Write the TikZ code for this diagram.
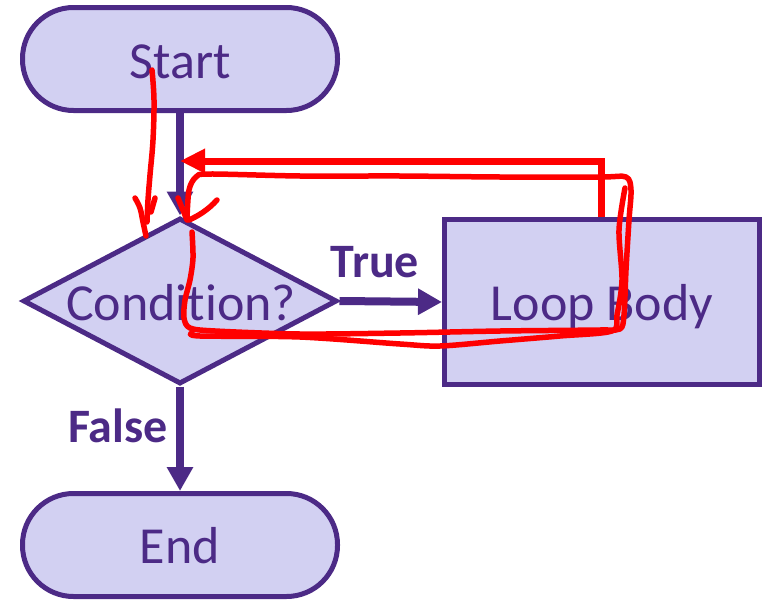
\documentclass[tikz,border=0pt]{standalone}
\usepackage{fontspec}
\setmainfont{Carlito}[Ligatures=CommonOff]
\usetikzlibrary{arrows.meta,shapes.geometric}
\definecolor{ink}{RGB}{76,42,134}
\definecolor{shade}{RGB}{210,208,242}
\definecolor{pen}{RGB}{255,0,0}
\tikzset{
  box/.style={draw=ink, fill=shade, line width=5pt, inner sep=0pt},
  terminal/.style={box, rectangle, rounded corners=51pt, minimum width=315pt, minimum height=103pt},
  decision/.style={box, diamond, minimum width=314pt, minimum height=166pt},
  process/.style={box, rectangle, minimum width=315pt, minimum height=165pt},
  caption/.style={text=ink, font=\fontsize{52}{60}\selectfont, anchor=base, inner sep=0pt},
  branch/.style={text=ink, font=\fontsize{48}{56}\selectfont\bfseries, anchor=base, inner sep=0pt},
  flow/.style={draw=ink, line width=8pt, -{Triangle[length=24pt,width=25pt]}},
  pen stroke/.style={draw=pen, line width=5.5pt, line cap=round, line join=round},
  pen arrow/.style={draw=pen, line width=7pt, -{Triangle[length=25pt,width=23pt]}},
}
\begin{document}
\begin{tikzpicture}[x=1pt, y=-1pt]
\useasboundingbox (0,0) rectangle (771,605);

% flowchart shapes
\node[terminal] (start) at (180,59) {};
\node[decision] (cond) at (180,301) {};
\node[process] (body) at (602,302) {};
\node[terminal] (end) at (180,545) {};

% texts (the kern keeps "t" and "i" as separate letters)
\node[caption] (startText) at (180,78) {Start};
\node[caption] (condText) at (181,320) {Condit\kern0pt ion?};
\node[caption] (bodyText) at (602,320) {Loop Body};
\node[caption] (endText) at (180,563) {End};
\node[branch] (trueText) at (375,277) {True};
\node[branch] (falseText) at (118,442) {False};

% connectors
\draw[flow] (start.south) -- (cond.north);
\draw[flow] (cond.east) -- (body.west);
\draw[flow] (cond.south) -- (end.north);

% hand-drawn red annotations
\coordinate (merge) at (180,161);
\draw[pen arrow] (body.north -| 601,0) -- (601,161) -- (merge);

\draw[pen stroke] plot[smooth, tension=0.6] coordinates {(152,70) (154,100) (153,140) (150,175) (148,200) (147,222)};
\draw[pen stroke] plot[smooth, tension=0.6] coordinates {(135,198) (140,208) (143,222) (146,236)};
\draw[pen stroke] (155,198) -- (151,212);

\draw[pen stroke] plot[smooth, tension=0.5] coordinates {
  (192,232) (193,258) (190,280) (185,300) (184,318) (190,328) (215,331)
  (300,334) (400,333) (500,331) (600,330) (620,329) (624,315) (626,270)
  (629,220) (631,190) (626,177) (600,177) (500,177) (400,176) (300,176)
  (210,174) (196,177) (189,190) (187,219)};
\draw[pen stroke] plot[smooth, tension=0.5] coordinates {
  (625,188) (619,230) (622,280) (617,315) (612,331) (560,336) (500,341)
  (440,346) (400,344) (300,337) (200,336) (192,333)};
\draw[pen stroke] (178,198) -- (187,220);
\draw[pen stroke] (217,200) .. controls (208,210) and (198,216) .. (189,220);
\end{tikzpicture}
\end{document}
